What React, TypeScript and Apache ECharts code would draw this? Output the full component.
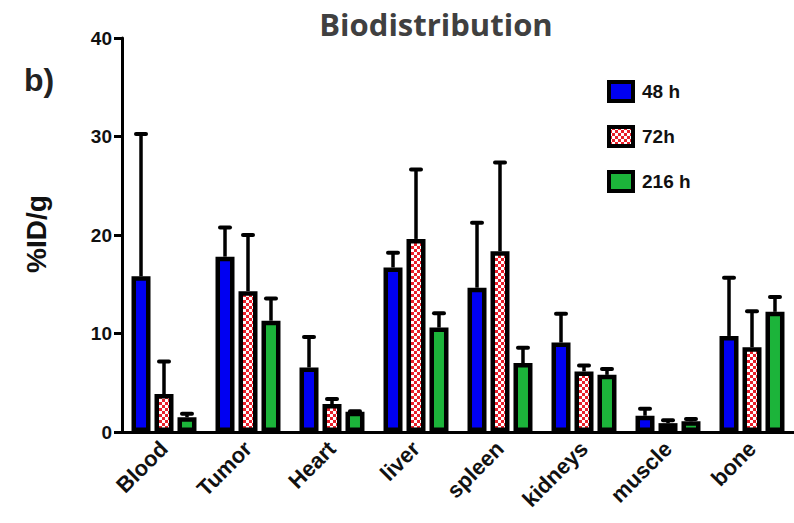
import React, { useEffect, useRef } from "react";
import * as echarts from "echarts";

const categories = ["Blood", "Tumor", "Heart", "liver", "spleen", "kidneys", "muscle", "bone"];
const seriesNames = ["48 h", "72h", "216 h"];
const mean48 = [15.8, 17.8, 6.55, 16.7, 14.65, 9.08, 1.65, 9.75];
const err48 = [14.5, 3.0, 3.15, 1.55, 6.65, 2.97, 0.75, 5.95];
const mean72 = [3.85, 14.3, 2.84, 19.6, 18.35, 6.15, 0.9, 8.6];
const err72 = [3.35, 5.75, 0.56, 7.1, 9.05, 0.65, 0.35, 3.7];
const mean216 = [1.5, 11.3, 2.06, 10.6, 7.0, 5.8, 1.08, 12.2];
const err216 = [0.4, 2.3, 0.1, 1.5, 1.6, 0.65, 0.3, 1.55];
const yTicks = { min: 0, max: 40, interval: 10 };

const FONT = "'Liberation Sans', Arial, sans-serif";

function makePattern() {
  const c = document.createElement("canvas");
  c.width = 6;
  c.height = 6;
  const ctx = c.getContext("2d")!;
  ctx.fillStyle = "#e8202a";
  ctx.fillRect(0, 0, 6, 6);
  ctx.fillStyle = "#ffffff";
  ctx.fillRect(0, 0, 3, 3);
  ctx.fillRect(3, 3, 3, 3);
  return c;
}

export default function App() {
  const ref = useRef<HTMLDivElement>(null);
  useEffect(() => {
    if (!ref.current) return;
    const chart = echarts.init(ref.current, undefined, { renderer: "svg" });
    const pattern = { image: makePattern(), repeat: "repeat" } as any;
    const colors = ["#0000f2", pattern, "#1cb43a"];
    const means = [mean48, mean72, mean216];
    const errs = [err48, err72, err216];
    const barWidth = 19;
    const gapPct = 0.21;
    const step = barWidth * (1 + gapPct);

    const bars = seriesNames.map((name, i) => ({
      name,
      type: "bar",
      data: means[i],
      barWidth,
      barGap: gapPct * 100 + "%",
      itemStyle: { color: colors[i], borderColor: "#000", borderWidth: 4.5 },
      z: 3,
    }));

    const errorSeries = seriesNames.map((name, i) => ({
      name: name + " err",
      type: "custom",
      z: 2,
      silent: true,
      data: means[i].map((m, j) => [j, m, errs[i][j]]),
      renderItem: (params: any, api: any) => {
        const idx = api.value(0);
        const m = api.value(1);
        const e = api.value(2);
        const b = api.coord([idx, m]);
        const t = api.coord([idx, m + e]);
        const x = b[0] + (i - 1) * step;
        const half = 5;
        return {
          type: "group",
          children: [
            {
              type: "line",
              shape: { x1: x, y1: b[1], x2: x, y2: t[1] },
              style: { stroke: "#000", lineWidth: 3.5 },
            },
            {
              type: "line",
              shape: { x1: x - half, y1: t[1] + 0.5, x2: x + half, y2: t[1] + 0.5 },
              style: { stroke: "#000", lineWidth: 4, lineCap: "round" },
            },
          ],
        };
      },
    }));

    chart.setOption({
      animation: false,
      backgroundColor: "#fff",
      grid: { left: 122, right: -6, top: 38, bottom: 91, containLabel: false },
      legend: {
        orient: "vertical",
        left: 607,
        top: 80,
        padding: 0,
        itemWidth: 24,
        itemHeight: 19,
        itemGap: 22,
        icon: "rect",
        data: seriesNames,
        itemStyle: { borderColor: "#000", borderWidth: 4 },
        textStyle: { fontFamily: FONT, fontWeight: "bold", fontSize: 19, color: "#111", padding: [0, 0, 0, 4] },
      },
      xAxis: {
        type: "category",
        data: categories,
        boundaryGap: true,
        axisLine: { lineStyle: { color: "#000", width: 3 } },
        axisTick: { alignWithLabel: true, length: 7, lineStyle: { color: "#000", width: 3 } },
        axisLabel: {
          rotate: 45,
          margin: 13,
          fontFamily: FONT,
          fontWeight: "bold",
          fontSize: 22,
          color: "#111",
        },
      },
      yAxis: {
        type: "value",
        min: yTicks.min,
        max: yTicks.max,
        interval: yTicks.interval,
        axisLine: { show: true, lineStyle: { color: "#000", width: 3 } },
        axisTick: { show: true, length: 8, lineStyle: { color: "#000", width: 3 } },
        splitLine: { show: false },
        axisLabel: { margin: 10, fontFamily: FONT, fontWeight: "bold", fontSize: 19, color: "#111" },
      },
      graphic: [
        {
          type: "text",
          x: 436,
          y: 24,
          style: {
            text: "Biodistribution",
            fill: "#404040",
            font: "bold 31px 'Open Sans', sans-serif",
            textAlign: "center",
            textVerticalAlign: "middle",
          },
        },
        {
          type: "text",
          x: 24,
          y: 80,
          style: {
            text: "b)",
            fill: "#222",
            font: "bold 32px " + FONT,
            textAlign: "left",
            textVerticalAlign: "middle",
          },
        },
        {
          type: "text",
          x: 36,
          y: 234,
          rotation: Math.PI / 2,
          style: {
            text: "%ID/g",
            fill: "#111",
            font: "bold 28px " + FONT,
            textAlign: "center",
            textVerticalAlign: "middle",
          },
        },
      ],
      series: [...errorSeries, ...bars],
    } as any);
    return () => chart.dispose();
  }, []);
  return <div ref={ref} style={{ width: 794, height: 523, position: "absolute", left: 0, top: 0 }} />;
}
